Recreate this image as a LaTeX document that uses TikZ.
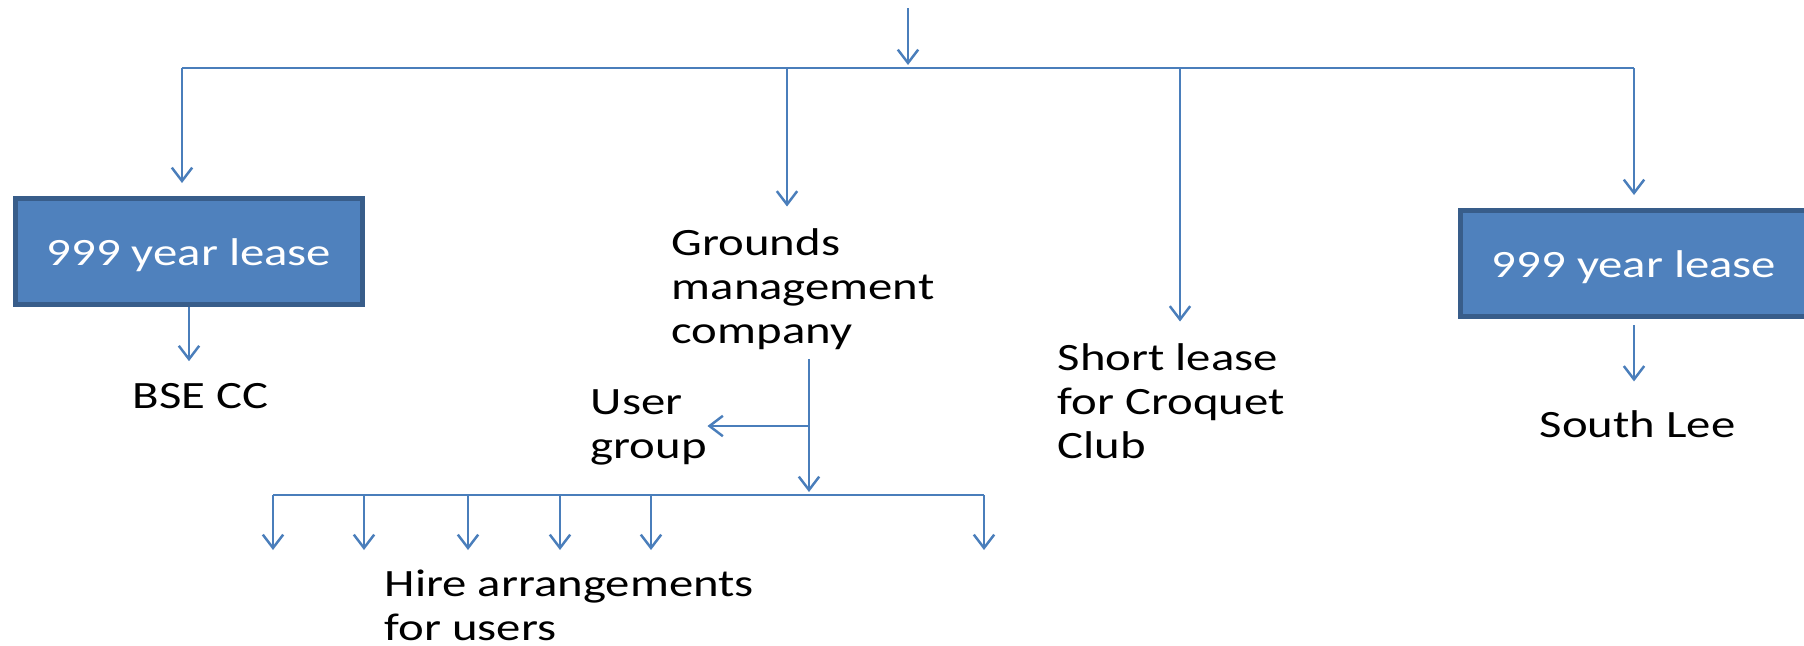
\documentclass[tikz,border=0pt]{standalone}
\usepackage{fontspec}
\newfontfamily\calib{Carlito}[FakeStretch=1.26]
\usetikzlibrary{arrows.meta}
\definecolor{boxblue}{HTML}{4F81BD}
\definecolor{boxrim}{HTML}{385D8A}
\definecolor{linkblue}{HTML}{4A7EBB}

\begin{document}
\begin{tikzpicture}[x=0.01cm,y=-0.01cm,
		wire/.style={draw=linkblue,line width=0.7pt},
		link/.style={wire,-{Straight Barb[length=3.8pt,width=5.8pt,line width=0.7pt]}},
		lease/.style={rectangle,fill=boxblue,draw=boxrim,line width=1.4pt,minimum width=3.47cm,minimum height=1.06cm,inner sep=0pt,text height=0.36cm,text depth=0.08cm,text=white,font=\calib\fontsize{11}{12.5}\selectfont},
		txt/.style={inner sep=0pt,anchor=base west,align=left,font=\calib\fontsize{11}{12.5}\selectfont}]
	\useasboundingbox (0,0) rectangle (1804,645);
	\clip (0,0) rectangle (1804,645);
	\coordinate (top) at (908,8);
	\coordinate (hub) at (908,68);
	\coordinate (barl) at (182,68);
	\coordinate (barg) at (787,68);
	\coordinate (bars) at (1180,68);
	\coordinate (barr) at (1634,68);
	\node[lease] (lbox) at (189,251.5) {999 year lease};
	\node[lease] (rbox) at (1634,263.5) {999 year lease};
	\node[txt] (bse) at (132,408) {BSE CC};
	\node[txt] (grounds) at (671,343) {Grounds\\management\\company};
	\node[txt] (short) at (1057,458) {Short lease\\for Croquet\\Club};
	\node[txt] (slee) at (1539,437) {South Lee};
	\node[txt] (user) at (590,458) {User\\group};
	\node[txt] (hire) at (384,640) {Hire arrangements\\for users};
	\coordinate (stem) at (809,426);
	\coordinate (lowhub) at (809,495);
	\foreach \i/\x in {1/273,2/364,3/468,4/560,5/651,6/984}{
		\coordinate (h\i) at (\x,495);
		\coordinate (t\i) at (\x,550);
	}
	\draw[link,shorten >=0.03cm] (top) -- (hub);
	\draw[wire] (barl) -- (barr);
	\draw[link,shorten >=0.13cm] (barl) -- (barl |- lbox.north);
	\draw[link,shorten >=0.21cm] (barg) -- (barg |- grounds.north);
	\draw[link,shorten >=0.21cm] (bars) -- (bars |- short.north);
	\draw[link,shorten >=0.13cm] (barr) -- (barr |- rbox.north);
	\draw[link,shorten >=0.21cm] (lbox.south) -- (lbox.south |- bse.north);
	\draw[link,shorten <=0.06cm,shorten >=0.28cm] (rbox.south) -- (rbox.south |- slee.north);
	\draw[link,shorten <=0.09cm,shorten >=0.03cm] (grounds.south -| stem) -- (lowhub);
	\draw[link] (stem) -- (stem -| user.east);
	\draw[wire] (h1) -- (h6);
	\foreach \i in {1,...,6}
		\draw[link] (h\i) -- (t\i);
\end{tikzpicture}
\end{document}
